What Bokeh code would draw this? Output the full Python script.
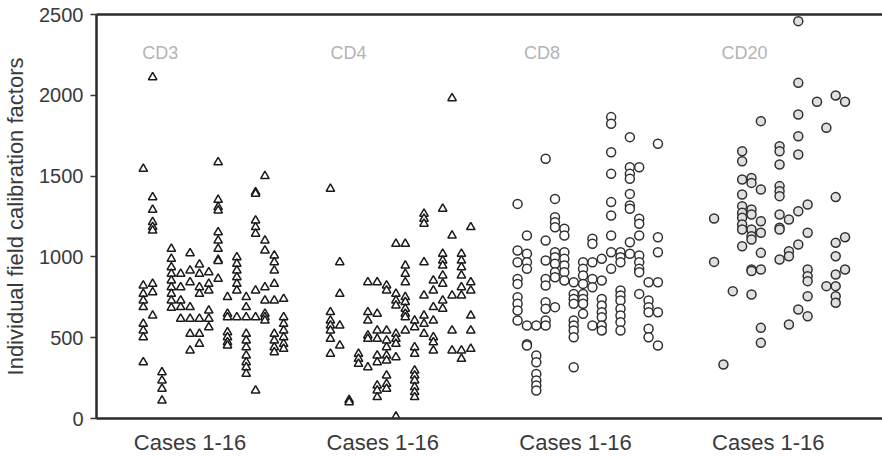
from bokeh.plotting import figure
from bokeh.models import LinearAxis, FixedTicker, Range1d, Label
from bokeh.embed import file_html
from bokeh.resources import INLINE

groups = ["CD3", "CD4", "CD8", "CD20"]
case_tick_labels = ["Cases 1-16", "Cases 1-16", "Cases 1-16", "Cases 1-16"]
case_tick_pos = [6.0, 26.6, 47.2, 67.8]
group_label_pos = [0.9, 21.0, 41.7, 62.8]
y_ticks = [0, 500, 1000, 1500, 2000, 2500]

cd3_cases = [
    [1545, 823, 771, 730, 689, 586, 545, 503, 348],
    [2112, 1369, 1291, 1215, 1185, 1163, 833, 781, 637],
    [286, 235, 184, 111],
    [1050, 988, 936, 895, 854, 812, 771, 730, 685],
    [895, 812, 730, 689, 617],
    [1023, 916, 843, 689, 617, 524, 421],
    [953, 895, 812, 771, 617, 524, 462],
    [905, 833, 792, 668, 617, 565],
    [1586, 1353, 1308, 1287, 1153, 1101, 1050, 982, 975, 864],
    [751, 648, 627, 534, 503, 472, 452],
    [998, 957, 916, 874, 833, 792, 627],
    [751, 689, 627, 524, 483, 441, 390, 348, 317, 276],
    [1400, 1390, 1225, 1184, 1143, 792, 627, 173],
    [1500, 1101, 1040, 812, 730, 648, 627, 606],
    [1009, 967, 916, 833, 730, 524, 483, 441, 410],
    [740, 627, 586, 545, 503, 462, 431],
]

cd4_cases = [
    [1421, 658, 606, 575, 545, 493, 400],
    [967, 771, 575, 452],
    [115, 101],
    [400, 369, 338],
    [843, 658, 606, 514, 493, 317],
    [843, 648, 545, 493, 390, 348, 204, 173, 132],
    [823, 792, 545, 483, 441, 390, 359, 266, 214, 184],
    [1081, 771, 730, 699, 524, 493, 462, 379, 12],
    [1081, 946, 895, 843, 751, 720, 679, 648, 627, 545],
    [606, 565, 441, 400, 297, 266, 235, 194, 163, 132],
    [1267, 1236, 1205, 967, 761, 637, 586, 524],
    [854, 792, 689, 606, 503, 472, 421],
    [1298, 1019, 977, 946, 885, 833, 730, 679],
    [1982, 1132, 761, 545, 421],
    [1019, 977, 936, 885, 812, 761, 421, 369],
    [1184, 843, 792, 637, 545, 431],
]

cd8_cases = [
    [1328, 1040, 967, 864, 833, 751, 710, 668, 606],
    [1132, 1019, 967, 926, 575, 460, 452],
    [575, 390, 348, 276, 235, 204, 173],
    [1607, 1101, 978, 864, 823, 720, 679, 606, 575],
    [1359, 1246, 1215, 1184, 1029, 998, 957, 905, 874, 689],
    [1174, 1132, 1029, 988, 947, 905, 854],
    [843, 771, 740, 710, 606, 575, 545, 503, 317],
    [967, 926, 885, 833, 771, 740, 710, 648],
    [1112, 1081, 967, 864, 812, 575],
    [988, 854, 740, 699, 658, 627, 575, 545],
    [1865, 1824, 1648, 1514, 1339, 1256, 1132, 1029, 926],
    [1029, 998, 967, 792, 761, 730, 679, 637, 596, 545],
    [1741, 1555, 1514, 1483, 1390, 1318, 1298, 1091, 1019],
    [1555, 1236, 1205, 1132, 1009, 967, 926, 905, 771],
    [843, 730, 689, 658, 555, 503],
    [1700, 1122, 1029, 843, 658, 452],
]

cd20_cases = [
    [],
    [1238, 969],
    [334],
    [788],
    [1654, 1592, 1479, 1386, 1314, 1273, 1242, 1200, 1170, 1066],
    [1489, 1458, 1293, 1262, 1170, 1128, 1108, 922, 912, 767],
    [1840, 1417, 1221, 1149, 1025, 922, 561, 468],
    [],
    [1685, 1654, 1572, 1438, 1407, 1376, 1262, 1180, 1170, 984],
    [1231, 1035, 1004, 582],
    [2459, 2077, 1881, 1747, 1634, 1283, 1077, 674],
    [1324, 1149, 922, 881, 850, 757, 633],
    [1960],
    [1799, 819],
    [1999, 1370, 1087, 1004, 891, 819, 757, 716],
    [1960, 1122, 922],
]

all_cases = [cd3_cases, cd4_cases, cd8_cases, cd20_cases]
markers = ["triangle", "triangle", "circle", "circle"]
fills = ["white", "white", "white", "#e0e0e0"]
sizes = [8.5, 8.5, 9, 9]
lines = ["#1a1a1a", "#1a1a1a", "#303030", "#303030"]

FONT = "Liberation Sans"

p = figure(width=882, height=458, output_backend="svg", toolbar_location=None,
           x_range=Range1d(-4.0, 80.0), y_range=Range1d(0, 2500),
           min_border_left=92, min_border_right=0, min_border_top=14, min_border_bottom=40)
p.outline_line_color = None
p.xgrid.visible = False
p.ygrid.visible = False
p.background_fill_color = "white"

for g, cases in enumerate(all_cases):
    xs, ys = [], []
    for ci, vals in enumerate(cases):
        for v in vals:
            xs.append(g * 20 + ci + 1)
            ys.append(v)
    p.scatter(xs, ys, marker=markers[g], size=sizes[g], fill_color=fills[g],
              line_color=lines[g], line_width=1.5)

for name, gx in zip(groups, group_label_pos):
    p.add_layout(Label(x=gx, y=2260, text=name, text_font=FONT,
                       text_font_size="18px", text_color="#b4b4b4",
                       text_baseline="middle", text_align="left"))

# y axis
ya = p.yaxis[0]
ya.ticker = FixedTicker(ticks=y_ticks)
ya.axis_label = "Individual field calibration factors"
ya.axis_label_text_font = FONT
ya.axis_label_text_font_style = "normal"
ya.axis_label_text_font_size = "22px"
ya.axis_label_text_color = "#3a3a3a"
ya.axis_label_standoff = 8
ya.major_label_text_font = FONT
ya.major_label_text_font_size = "20px"
ya.major_label_text_color = "#3a3a3a"
ya.major_label_standoff = 7
ya.major_tick_out = 6
ya.major_tick_in = 0
ya.minor_tick_line_color = None
ya.axis_line_width = 2.5
ya.axis_line_color = "#2a2a2a"
ya.major_tick_line_color = "#333333"
ya.major_tick_line_width = 1.5

# x axis
xa = p.xaxis[0]
xa.ticker = FixedTicker(ticks=case_tick_pos)
xa.major_label_overrides = {t: lab for t, lab in zip(case_tick_pos, case_tick_labels)}
xa.major_label_text_font = FONT
xa.major_label_text_font_size = "22px"
xa.major_label_text_color = "#3a3a3a"
xa.major_label_standoff = 5
xa.major_tick_line_color = None
xa.minor_tick_line_color = None
xa.axis_line_width = 2.5
xa.axis_line_color = "#2a2a2a"

# top frame line
top = LinearAxis(ticker=FixedTicker(ticks=[]), major_tick_line_color=None,
                 minor_tick_line_color=None, major_label_text_font_size="0px",
                 major_label_standoff=0, axis_line_width=2.5, axis_line_color="#2a2a2a")
p.add_layout(top, "above")

open("out.html", "w").write(file_html(p, INLINE))
